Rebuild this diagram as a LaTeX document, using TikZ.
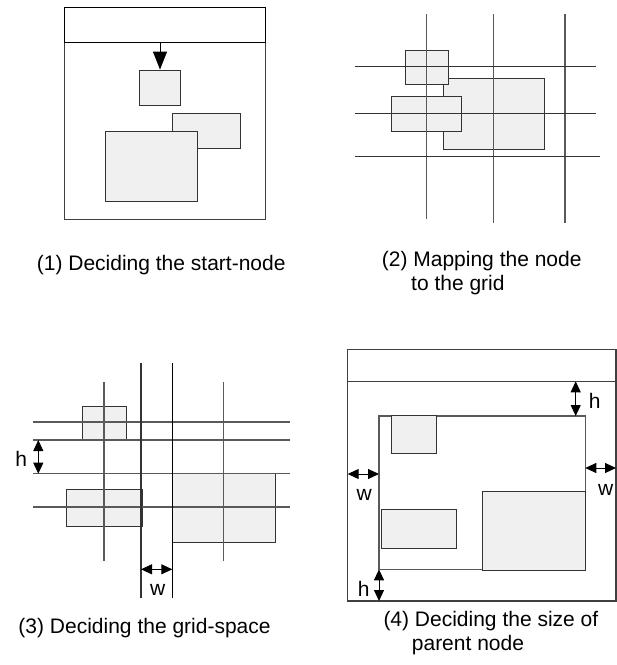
\documentclass[tikz,border=0pt]{standalone}
\usepackage{fontspec}
\setsansfont{Liberation Sans}
\usetikzlibrary{arrows.meta}

\begin{document}
\begin{tikzpicture}[x=1pt,y=-1pt,
  box/.style={draw=black!80,fill=black!6,line width=1pt},
  frame/.style={draw=black!75,line width=1.1pt},
  gridline/.style={draw=black!65,line width=1.2pt},
  dim/.style={{Triangle[length=11pt,width=10pt]}-{Triangle[length=11pt,width=10pt]},line width=1pt},
  caption/.style={anchor=base west,inner sep=0pt,font=\fontsize{21}{25}\selectfont},
  lbl/.style={anchor=base,inner sep=0pt,font=\fontsize{21}{25}\selectfont}]
\sffamily
\useasboundingbox (0,0) rectangle (617,665);

% (1) parent frame and the start node
\draw[frame] (64.3,7.3) rectangle (265.7,219.3);
\draw[line width=1.4pt] (64.3,7.3) rectangle (265.7,42.7);
\draw[box] (172.3,113.3) rectangle (240.7,148.3);
\draw[box] (105,131.3) rectangle (197.7,201.3);
\node[box,minimum width=41.4pt,minimum height=35.3pt] (start) at (160,87.7) {};
\coordinate (head1) at (160,42.7);
\draw[-{Triangle[length=18pt,width=14pt]},line width=1pt] (head1) -- (start.north);
\node[caption] (cap1) at (36.7,270) {(1) Deciding the start-node};

% (2) nodes mapped onto the grid
\draw[box] (443.7,78.7) rectangle (544.3,149.3);
\draw[box] (405,50) rectangle (448.3,84.7);
\draw[box] (391.7,96.7) rectangle (461.7,131.3);
\draw[gridline] (426.7,14) -- (426.7,219);
\foreach \x in {493.7,565}
  \draw[gridline] (\x,14) -- (\x,223);
\foreach \y in {66.7,113.7}
  \draw[gridline,draw=black!80] (355,\y) -- (596,\y);
\draw[gridline,draw=black!80] (355,156.7) -- (600,156.7);
\node[caption] (cap2a) at (381.7,266.7) {(2) Mapping the node};
\node[caption] (cap2b) at (411,290) {to the grid};

% (3) grid spacing
\draw[box] (82.3,406.3) rectangle (126.7,440);
\draw[box] (66.7,489) rectangle (142.7,526.3);
\draw[box] (172.3,473.7) rectangle (275.3,542.3);
\foreach \y in {422,440,473.7,507}
  \draw[gridline] (33.3,\y) -- (290,\y);
\foreach \x in {104,223.7}
  \draw[gridline] (\x,382.3) -- (\x,561);
\draw[gridline,draw=black!80] (141,363.3) -- (141,598);
\draw[gridline,draw=black] (172.3,363.3) -- (172.3,598);
\coordinate (h3a) at (38.3,440);
\coordinate (h3b) at (38.3,473.7);
\coordinate (w3a) at (141,569.3);
\coordinate (w3b) at (172.3,569.3);
\draw[dim] (h3a) -- (h3b);
\draw[dim] (w3a) -- (w3b);
\node[lbl] (h3) at (21.3,466) {h};
\node[lbl] (w3) at (157.8,595) {w};
\node[caption] (cap3) at (18.3,633.3) {(3) Deciding the grid-space};

% (4) size of the parent node
\draw[frame] (347.7,349.3) rectangle (616,601);
\draw[frame] (347.7,381.3) -- (616,381.3);
\draw[frame,draw=black!65] (379,416) rectangle (585.3,569.3);
\draw[box] (391.7,415) rectangle (436.7,453.3);
\draw[box] (381,509.3) rectangle (456.7,548);
\draw[box] (482,491.7) rectangle (585.3,570);
\coordinate (h4a) at (575.7,381.3);
\coordinate (h4b) at (575.7,416);
\coordinate (w4a) at (347.7,474);
\coordinate (w4b) at (379,474);
\coordinate (w4c) at (585.3,468);
\coordinate (w4d) at (616,468);
\coordinate (h4c) at (379,569.3);
\coordinate (h4d) at (379,601);
\draw[dim] (h4a) -- (h4b);
\draw[dim] (w4a) -- (w4b);
\draw[dim] (w4c) -- (w4d);
\draw[dim] (h4c) -- (h4d);
\node[lbl] (h4t) at (594.7,408.3) {h};
\node[lbl] (w4l) at (364.2,500) {w};
\node[lbl] (w4r) at (605.8,495) {w};
\node[lbl] (h4bl) at (363.8,596.7) {h};
\node[caption] (cap4a) at (383.3,626.7) {(4) Deciding the size of};
\node[caption] (cap4b) at (411.7,650) {parent node};
\end{tikzpicture}
\end{document}
